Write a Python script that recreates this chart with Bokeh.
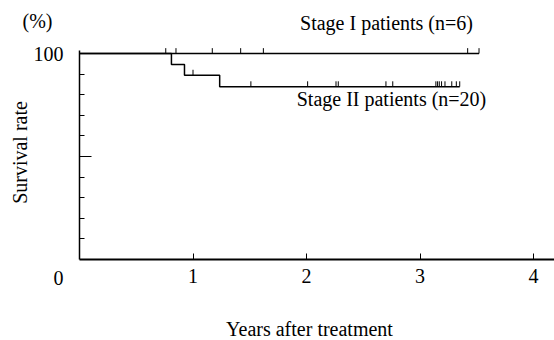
import numpy as np
from bokeh.plotting import figure
from bokeh.models import Range1d, FixedTicker, Label
from bokeh.embed import file_html
from bokeh.resources import INLINE

# ---- data ----
stage1_times = [0.0, 3.52]
stage1_levels = [100.0, 100.0]
stage1_censor = [0.85, 1.17, 1.42, 1.62, 3.42, 3.52]

stage2_event_times = [0.81, 0.925, 1.235]
stage2_levels = [100.0, 94.7, 89.5, 83.9]
stage2_end = 3.35
stage2_censor = [0.76, 1.00, 1.51, 2.01, 2.26, 2.28, 2.70, 2.76,
                 3.14, 3.155, 3.17, 3.19, 3.22, 3.28, 3.32, 3.35]

x_ticks = [1, 2, 3, 4]
y_major = [50, 100]
y_minor = [10, 20, 30, 40, 60, 70, 80, 90]

FONT = "Liberation Serif"
FS = "20px"

# pixel geometry: year 0 at x=79, 113.5 px per year; 0 % at y=259, 2.06 px per %
X0, XS = 79.0, 113.5
Y0, YS = 259.0, 2.06
W, H = 554, 340

def dx(px):
    return (px - X0) / XS

def dy(py):
    return (Y0 - py) / YS

p = figure(width=W, height=H, output_backend="svg", toolbar_location=None,
           x_range=Range1d(dx(0), dx(W)), y_range=Range1d(dy(H), dy(0)),
           min_border_left=0, min_border_right=0, min_border_top=0,
           min_border_bottom=0)
p.outline_line_color = None
p.xgrid.visible = False
p.ygrid.visible = False
p.background_fill_color = "white"

# axes crossing at the origin
xa = p.xaxis[0]
xa.fixed_location = 0
xa.bounds = (0, dx(W))
xa.ticker = FixedTicker(ticks=x_ticks, minor_ticks=[])
xa.axis_line_width = 2
xa.axis_line_color = "black"
xa.major_tick_in = 6
xa.major_tick_out = 0
xa.major_tick_line_color = "black"
xa.minor_tick_line_color = None
xa.major_label_standoff = 9
xa.major_label_text_font = FONT
xa.major_label_text_font_size = FS
xa.major_label_text_color = "black"

ya = p.yaxis[0]
ya.fixed_location = 0
ya.ticker = FixedTicker(ticks=y_major, minor_ticks=y_minor)
ya.bounds = (0, 101.5)
ya.axis_line_width = 1.5
ya.axis_line_color = "black"
ya.major_tick_in = 12
ya.major_tick_out = 0
ya.minor_tick_in = 5
ya.minor_tick_out = 0
ya.major_tick_line_color = "black"
ya.minor_tick_line_color = "black"
ya.major_label_overrides = {50: ""}
ya.major_label_standoff = 16
ya.major_label_text_font = FONT
ya.major_label_text_font_size = FS
ya.major_label_text_color = "black"

# Stage I curve
p.line(stage1_times, stage1_levels, line_color="black", line_width=1.5)
c1_level = [stage1_levels[0]] * len(stage1_censor)
p.segment(x0=stage1_censor, y0=c1_level, x1=stage1_censor,
          y1=[v + 2.6 for v in c1_level], line_color="black", line_width=1)

# Stage II curve
s2x = [0.0] + stage2_event_times + [stage2_end]
s2y = stage2_levels + [stage2_levels[-1]]
p.step(s2x, s2y, mode="after", line_color="black", line_width=1.5)

def level_at(t):
    k = int(np.searchsorted(stage2_event_times, t, side="right"))
    return stage2_levels[k]

c2_level = [level_at(t) for t in stage2_censor]
p.segment(x0=stage2_censor, y0=c2_level, x1=stage2_censor,
          y1=[v + 2.6 for v in c2_level], line_color="black", line_width=1)

# texts
def lab(px, py, text, angle=0.0):
    p.add_layout(Label(x=dx(px), y=dy(py), text=text,
                       text_font=FONT, text_font_size=FS,
                       text_color="black", text_align="center",
                       text_baseline="middle", angle=angle))

lab(37, 20, "(%)")
lab(19, 152, "Survival rate", angle=np.pi / 2)
lab(58, 277, "0")
lab(309, 328, "Years after treatment")
lab(386, 22, "Stage I patients (n=6)")
lab(391, 98, "Stage II patients (n=20)")

open("out.html", "w").write(file_html(p, INLINE))
